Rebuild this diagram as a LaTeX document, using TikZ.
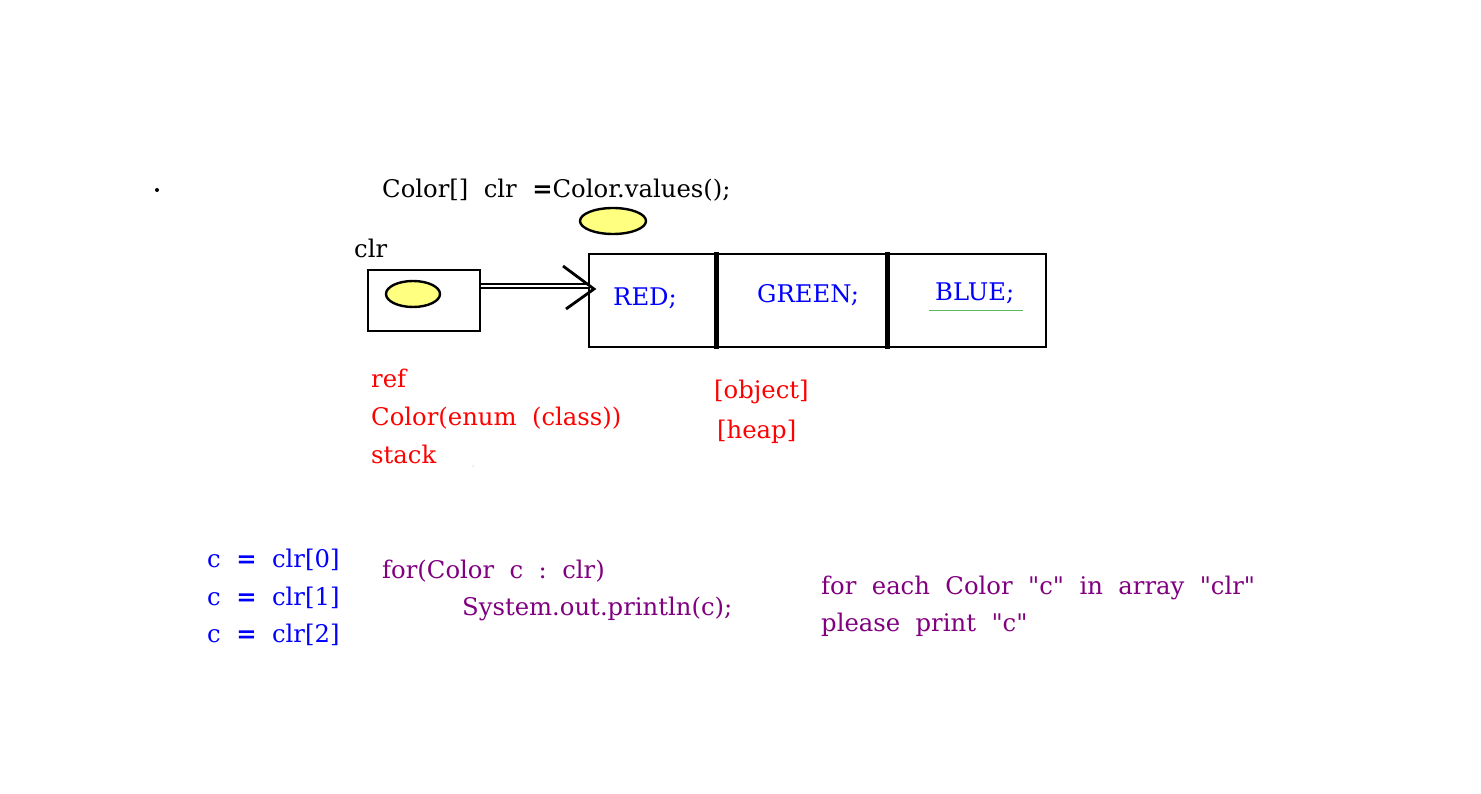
\documentclass[tikz,border=0pt]{standalone}
\usepackage{fontspec}
\usetikzlibrary{shapes.geometric}
\setmainfont{DejaVu Serif}[Ligatures=TeXOff]
\begin{document}
\begin{tikzpicture}[x=1pt,y=-1pt,
  txt/.style={inner sep=0pt,anchor=base west,font=\fontsize{24.3}{29}\selectfont},
  blk/.style={txt,text=black},
  redt/.style={txt,text=red},
  bluet/.style={txt,text=blue},
  purt/.style={txt,text=codepurple},
  oval/.style={draw=black,line width=2.4pt,fill=ovalyellow,ellipse,minimum width=#1,minimum height=26pt,inner sep=0pt},
  cell/.style={draw=black,line width=2.8pt,inner sep=0pt},
  divider/.style={line width=5pt,black},
]
\definecolor{ovalyellow}{HTML}{FFFF80}
\definecolor{codepurple}{HTML}{800080}
\definecolor{ulgreen}{HTML}{5CB85C}
\useasboundingbox (0,0) rectangle (1481,794);
\fill (157,190) circle (2pt);
\node[blk] (title) at (382,198) {Color[]\ \ clr\ \ \textbf{=}Color.values();};
\node[oval=66pt] (topoval) at (613,221) {};
\node[blk] (clrlbl) at (354,258) {clr};
\node[cell,minimum width=112pt,minimum height=61pt] (refbox) at (424,300.5) {};
\node[oval=54pt] (refoval) at (413,294) {};
\node[cell,minimum width=457pt,minimum height=93pt] (arr) at (817.5,300.5) {};
\coordinate (d1t) at (716,252); \coordinate (d1b) at (716,349);
\coordinate (d2t) at (887,252); \coordinate (d2b) at (887,349);
\draw[divider] (d1t) -- (d1b);
\draw[divider] (d2t) -- (d2b);
\coordinate (tip) at (594,289);
\coordinate (arm1) at (563,266);
\coordinate (arm2) at (566,309);
\draw[line width=2pt,double=white,double distance=2.2pt] (refbox.east |- 0,286) -- (590,286);
\draw[line width=2.8pt] (arm1) -- (tip) -- (arm2);
\node[bluet] (red) at (613,306) {RED;};
\node[bluet] (green) at (757,303) {GREEN;};
\node[bluet] (blue) at (935,301) {BLUE;};
\coordinate (ul1) at (929,310.5); \coordinate (ul2) at (1023,310.5);
\draw[ulgreen,line width=1.2pt] (ul1) -- (ul2);
\node[redt] (ref) at (371,388) {ref};
\node[redt] (cenum) at (371,425) {Color(enum\ \ (class))};
\node[redt] (stack) at (371,463) {stack};
\fill[gray] (473,466) circle (0.5pt);
\node[redt] (obj) at (714,399) {[object]};
\node[redt] (heap) at (717,438) {[heap]};
\node[bluet] (c0) at (207,567) {c\ \ \textbf{=}\ \ clr[0]};
\node[bluet] (c1) at (207,605) {c\ \ \textbf{=}\ \ clr[1]};
\node[bluet] (c2) at (207,642) {c\ \ \textbf{=}\ \ clr[2]};
\node[purt] (forl) at (382,578) {for(Color\ \ c\ \ :\ \ clr)};
\node[purt] (sysl) at (462,615) {System.out.println(c);};
\node[purt] (fe1) at (821,594) {for\ \ each\ \ Color\ \ "c"\ \ in\ \ array\ \ "clr"};
\node[purt] (fe2) at (821,631) {please\ \ print\ \ "c"};
\end{tikzpicture}
\end{document}
